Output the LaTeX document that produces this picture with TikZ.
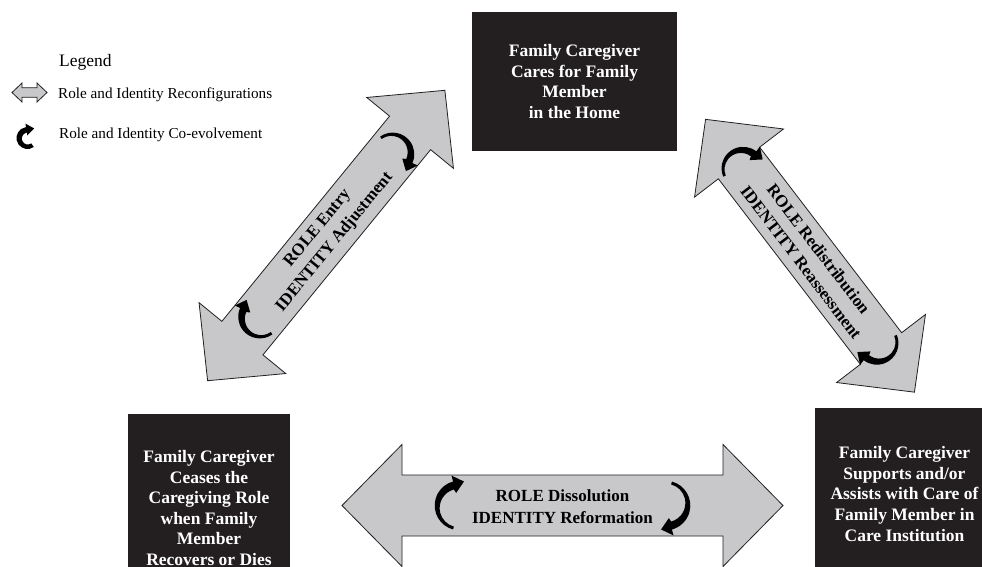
\documentclass[tikz,border=0pt]{standalone}
\usepackage{fontspec}
\setmainfont{Liberation Serif}
\usetikzlibrary{arrows.meta,calc}
\definecolor{boxc}{RGB}{35,31,32}
\definecolor{arrowfill}{RGB}{200,200,202}
\definecolor{arrowline}{RGB}{35,31,32}
\newcommand\boxfont{\fontsize{17.5}{20.6}\selectfont\bfseries}
\newcommand\arrowfont{\fontsize{17}{22}\selectfont\bfseries}
\newcommand\legheadfont{\fontsize{17.5}{20}\selectfont}
\newcommand\legfont{\fontsize{15.2}{18}\selectfont}
% #1 half length, #2 shaft half width, #3 head half width, #4 head length
\newcommand\blockarrowshape[4]{(-#1,0) -- (-#1+#4,-#3) -- (-#1+#4,-#2) -- (#1-#4,-#2) -- (#1-#4,-#3) -- (#1,0) -- (#1-#4,#3) -- (#1-#4,#2) -- (-#1+#4,#2) -- (-#1+#4,#3) -- cycle}
% tapered curved arrow: #1,#2 centre, #3 start angle, #4 end angle, #5 radius,
% #6 half mean thickness, #7 taper offset, #8 head half width, #9 head length
\newcommand\coevoarc[9]{%
  \fill[coevofill] ($(#1,#2)+(#3:#5+#6)$) arc[start angle=#3, end angle=#4, radius=#5+#6]
    -- ($(#1,#2)+(#4:#5+#8)$) -- ($(#1,#2)+(#4:#5)+(#4+90:#9)$) -- ($(#1,#2)+(#4:#5-#8)$)
    -- ($(#1,#2)+(#3:#7)+(#4:#5-#6)$) arc[start angle=#4, end angle=#3, radius=#5-#6] -- cycle;}
\begin{document}
\begin{tikzpicture}[x=1pt,y=-1pt,
  box/.style={fill=boxc, text=white, font=\boxfont, align=center, inner sep=0pt},
  bigarrow/.style={fill=arrowfill, draw=arrowline, line width=0.8pt, line join=miter},
  coevofill/.style={fill=black},
  arrowtext/.style={font=\arrowfont, align=center, inner sep=0pt},
  legtext/.style={font=\legfont, anchor=west, inner sep=0pt}]
\useasboundingbox (0,0) rectangle (982,566);
\fill[white] (0,0) rectangle (982,566);
\clip (0,0) rectangle (982,566);

% boxes
\node[box, minimum width=205pt, minimum height=139pt] (home) at (574.5,81.5)
  {Family Caregiver\\Cares for Family\\Member\\in the Home};
\node[box, minimum width=162pt, minimum height=188pt] (cease) at (209,508)
  {Family Caregiver\\Ceases the\\Caregiving Role\\when Family\\Member\\Recovers or Dies};
\node[box, minimum width=179pt, minimum height=172pt] (inst) at (904.5,494)
  {Family Caregiver\\Supports and/or\\Assists with Care of\\Family Member in\\Care Institution};

% left diagonal arrow: role entry
\begin{scope}[shift={(326.25,235.5)}, rotate=50.75]
  \draw[bigarrow] \blockarrowshape{187.5}{26.5}{56}{55};
  \coevoarc{-105}{0}{105}{255}{19}{2.6}{2.4}{8.5}{10}
  \coevoarc{105}{0}{-75}{75}{19}{2.6}{2.4}{8.5}{10}
\end{scope}
\node[arrowtext, rotate=50.75] (entry) at (326.25,235.5) {ROLE Entry\\IDENTITY Adjustment};

% right diagonal arrow: role redistribution
\begin{scope}[shift={(810,255.75)}, rotate=-52.56]
  \draw[bigarrow] \blockarrowshape{171.8}{26}{56}{55};
  \coevoarc{-110}{0}{105}{255}{19}{2.6}{2.4}{8.5}{10}
  \coevoarc{110}{0}{-75}{75}{19}{2.6}{2.4}{8.5}{10}
\end{scope}
\node[arrowtext, rotate=-52.56] (redis) at (810,255.75) {ROLE Redistribution\\IDENTITY Reassessment};

% horizontal arrow: role dissolution
\begin{scope}[shift={(562.5,505.5)}]
  \draw[bigarrow] \blockarrowshape{220.5}{30.5}{61}{60};
  \coevoarc{-103}{0}{105}{255}{22}{2.8}{2.6}{9}{10.5}
  \coevoarc{103}{0}{-75}{75}{22}{2.8}{2.6}{9}{10.5}
\end{scope}
\node[arrowtext] (dissol) at (562.5,507) {ROLE Dissolution\\IDENTITY Reformation};

% legend
\node[legtext, font=\legheadfont] (leg) at (59,62) {Legend};
\begin{scope}[shift={(29.5,92.5)}]
  \draw[bigarrow] \blockarrowshape{17.5}{4.8}{9.5}{10};
\end{scope}
\node[legtext] (leg1) at (58,95) {Role and Identity Reconfigurations};
\coevoarc{27.5}{138}{55}{262}{8.5}{2.5}{0.6}{6}{8}
\node[legtext] (leg2) at (59,135) {Role and Identity Co-evolvement};
\end{tikzpicture}
\end{document}
